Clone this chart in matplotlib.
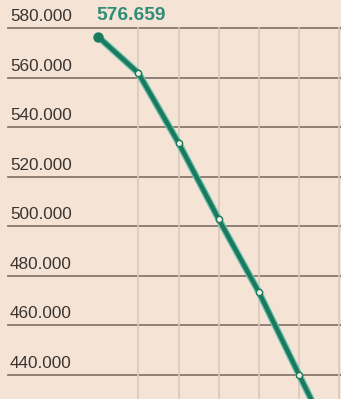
import matplotlib.pyplot as plt

# data
points = [0, 1, 2, 3, 4, 5, 6]
values = [576659, 562000, 533800, 502900, 473400, 440000, 407000]
tick_values = [580000, 560000, 540000, 520000, 500000, 480000, 460000, 440000]
first_label = '576.659'

bg = '#f5e3d6'
green = '#1b7a5d'
light_green = '#6cc3ae'

plt.rcParams['font.family'] = ['Liberation Sans', 'DejaVu Sans']

fig = plt.figure(figsize=(3.41, 3.99), dpi=100, facecolor=bg)
ax = fig.add_axes([0, 0, 1, 1], facecolor=bg)
ax.set_xlim(-2.44, 6.04)
ax.set_ylim(430300, 591500)
ax.axis('off')

# horizontal grid + labels
for v in tick_values:
    ax.plot([-2.24, 6.04], [v, v], color='#87786e', lw=1.3, zorder=1)
    ax.annotate(f'{v:,}'.replace(',', '.'), xy=(-2.19, v), xytext=(0, 3),
                textcoords='offset points', ha='left', va='bottom',
                fontsize=12.3, color='#3a3430')

# vertical grid
for p in points[1:]:
    ax.plot([p, p], [tick_values[0], 430300], color='#dcc8bb', lw=1.2, zorder=1)

# line
ax.plot(points, values, color=light_green, lw=5.0, zorder=2, solid_capstyle='round')
ax.plot(points, values, color=green, lw=3.2, zorder=3, solid_capstyle='round')
ax.plot(points[1:], values[1:], 'o', ms=4.5, mfc='#f4ece4', mec=green, mew=1.0, zorder=4)
ax.plot(points[:1], values[:1], 'o', ms=6.5, color=green, zorder=4)

ax.annotate(first_label, xy=(points[0], tick_values[0]), xytext=(-1, 3),
            textcoords='offset points', ha='left', va='bottom',
            fontsize=13.8, fontweight='bold', color='#2e8d78')

fig.savefig('out.png', dpi=100, facecolor=bg)
